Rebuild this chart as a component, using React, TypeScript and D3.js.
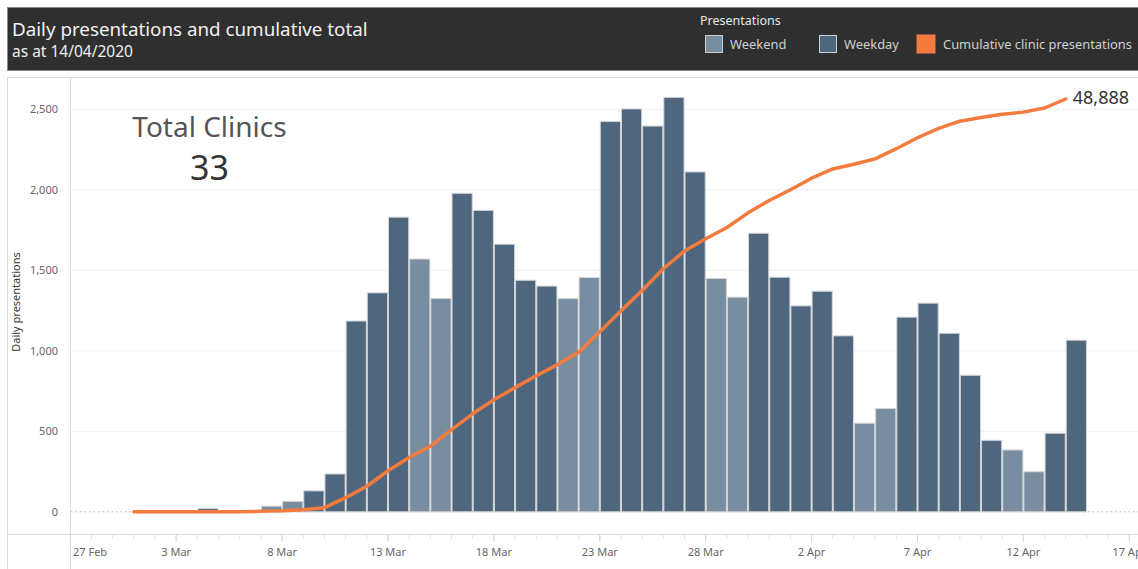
import React from "react";
import * as d3 from "d3";

// daily clinic presentations, one value per day starting 1 Mar 2020
const firstDay = new Date(2020, 2, 1);
const dailyPresentations = [
  0, 0, 0, 20, 0, 0, 35, 65, 130, 235,
  1185, 1360, 1830, 1570, 1325, 1978, 1872, 1662, 1438, 1402, 1324, 1455,
  2424, 2502, 2396, 2574, 2111, 1449, 1333, 1730, 1457,
  1279, 1370, 1093, 550, 641, 1209, 1296, 1109, 848, 444, 384, 249, 488, 1066,
];
const yTicks = [0, 500, 1000, 1500, 2000, 2500];
const axisStart = new Date(2020, 1, 27);
const axisEnd = new Date(2020, 3, 17);
const legendItems = [
  { label: "Weekend", color: "#788da0" },
  { label: "Weekday", color: "#4f677e" },
  { label: "Cumulative clinic presentations", color: "#f47b3e" },
];
const totalClinics = 33;

const W = 1138;
const H = 569;
const font = "'Noto Sans', 'Open Sans', sans-serif";

export default function App() {
  const days = dailyPresentations.map((v, i) => ({
    date: d3.timeDay.offset(firstDay, i),
    value: v,
  }));
  const cum = d3.cumsum(dailyPresentations);
  const total = cum[cum.length - 1];

  const x = d3.scaleTime().domain([axisStart, axisEnd]).range([70.3, 1129.3]);
  const y = d3.scaleLinear().domain([0, 2500]).range([511.8, 109.3]);
  const yCum = d3.scaleLinear().domain([0, total]).range([511.8, 99]);

  const line = d3
    .line<number>()
    .x((_, i) => x(days[i].date))
    .y((d) => yCum(d));

  const isWeekend = (d: Date) => d.getDay() === 0 || d.getDay() === 6;
  const labelDays = d3.timeDay.range(axisStart, d3.timeDay.offset(axisEnd, 1), 5);
  const allDays = d3.timeDay.range(axisStart, d3.timeDay.offset(axisEnd, 1));
  const fmt = d3.timeFormat("%-d %b");
  const last = days[days.length - 1];

  return (
    <svg
      width={W}
      height={H}
      style={{ position: "absolute", left: 0, top: 0, fontFamily: font }}
    >
      <rect width={W} height={H} fill="#fff" />
      {/* header */}
      <rect x={7.5} y={7.5} width={W} height={63} fill="#2f2f2f" stroke="#8a8a8a" />
      <text x={12} y={36} fontSize={18.8} fill="#f0f0f0">
        Daily presentations and cumulative total
      </text>
      <text x={12} y={57} fontSize={15.5} fill="#f0f0f0">
        as at 14/04/2020
      </text>
      <text x={700} y={25} fontSize={12.5} fill="#e6e6e6">
        Presentations
      </text>
      {legendItems.map((it, i) => {
        const lx = [705, 819, 916][i];
        const big = i === 2;
        return (
          <g key={it.label}>
            <rect
              x={lx + 0.5}
              y={big ? 34.5 : 35.5}
              width={big ? 19 : 17}
              height={big ? 19 : 17}
              fill={it.color}
              stroke={big ? "none" : "#cfcfcf"}
            />
            <text x={lx + (big ? 27 : 25)} y={49} fontSize={12.9} fill="#cfcfcf">
              {it.label}
            </text>
          </g>
        );
      })}

      {/* frame */}
      <line x1={7.5} x2={7.5} y1={77} y2={H} stroke="#d9d9d9" />
      <line x1={7} x2={W} y1={77.5} y2={77.5} stroke="#d9d9d9" />
      <line x1={70.5} x2={70.5} y1={77} y2={H} stroke="#d9d9d9" />
      <line x1={7} x2={W} y1={534.5} y2={534.5} stroke="#d9d9d9" />

      {/* gridlines + y axis */}
      {yTicks.map((t) => (
        <g key={t}>
          {t > 0 && (
            <line x1={71} x2={W} y1={y(t)} y2={y(t)} stroke="#efefef" strokeWidth={1} />
          )}
          <text x={58} y={y(t) + 4} fontSize={11} fill="#666" textAnchor="end">
            {d3.format(",")(t)}
          </text>
        </g>
      ))}
      <line
        x1={71}
        x2={W}
        y1={y(0)}
        y2={y(0)}
        stroke="#b5b5b5"
        strokeDasharray="1.5 3"
      />
      <text
        transform={`translate(20, 302) rotate(-90)`}
        fontSize={11}
        fill="#333"
        textAnchor="middle"
      >
        Daily presentations
      </text>

      {/* x axis */}
      {allDays.map((d) => (
        <line
          key={+d}
          x1={x(d)}
          x2={x(d)}
          y1={535}
          y2={539}
          stroke="#e2e2e2"
        />
      ))}
      {labelDays.map((d) => {
        const cx = x(d);
        const atEdge = cx < 80;
        return (
          <g key={+d}>
            <line x1={cx} x2={cx} y1={535} y2={542} stroke="#d5d5d5" />
            <text
              x={atEdge ? 73 : cx}
              y={556}
              fontSize={11}
              fill="#666"
              textAnchor={atEdge ? "start" : "middle"}
            >
              {fmt(d)}
            </text>
          </g>
        );
      })}

      {/* bars */}
      {days.map((d) => {
        const x0 = x(d.date);
        const x1 = x(d3.timeDay.offset(d.date, 1));
        if (d.value <= 0) return null;
        return (
          <rect
            key={+d.date}
            x={x0 + 0.5}
            y={y(d.value)}
            width={x1 - x0 - 1}
            height={y(0) - y(d.value)}
            fill={isWeekend(d.date) ? legendItems[0].color : legendItems[1].color}
            stroke="#d4d4d4"
            strokeWidth={1}
          />
        );
      })}

      {/* cumulative line */}
      <path
        d={line(cum) || ""}
        fill="none"
        stroke={legendItems[2].color}
        strokeWidth={3.5}
        strokeLinejoin="round"
        strokeLinecap="round"
      />
      <text
        x={x(last.date) + 7}
        y={yCum(total) + 5}
        fontSize={18}
        fill="#333"
      >
        {d3.format(",")(total)}
      </text>

      {/* KPI */}
      <text x={209.5} y={137} fontSize={28} fill="#555" textAnchor="middle">
        Total Clinics
      </text>
      <text x={209.5} y={180} fontSize={34} fill="#333" textAnchor="middle">
        {totalClinics}
      </text>
    </svg>
  );
}
